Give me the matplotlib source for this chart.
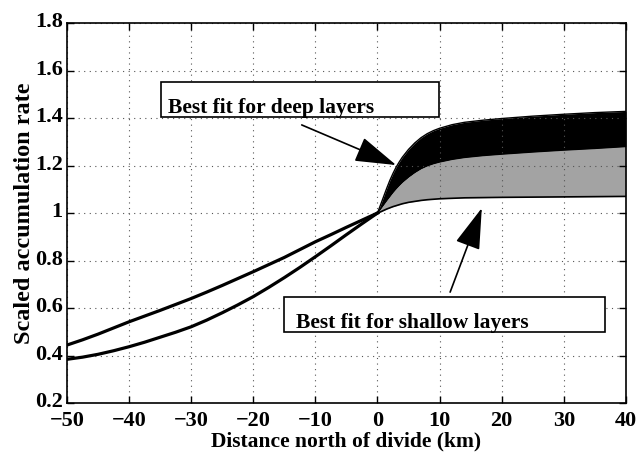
import matplotlib
matplotlib.use("Agg")
from matplotlib import pyplot as plt
from matplotlib.patches import Rectangle
from matplotlib.transforms import ScaledTranslation

# south of divide (two fits, meeting at the divide)
x_south = [-50, -47.5, -45, -42.5, -40, -37.5, -35, -32.5, -30, -27.5, -25,
           -22.5, -20, -17.5, -15, -12.5, -10, -7.5, -5, -2.5, 0]
deep_south = [0.444, 0.466, 0.49, 0.516, 0.542, 0.566, 0.59, 0.615, 0.64, 0.667, 0.695,
              0.724, 0.753, 0.783, 0.813, 0.846, 0.879, 0.909, 0.94, 0.97, 1.0]
shallow_south = [0.384, 0.393, 0.405, 0.42, 0.437, 0.456, 0.477, 0.498, 0.521, 0.549, 0.58,
                 0.613, 0.648, 0.687, 0.728, 0.771, 0.816, 0.862, 0.909, 0.955, 1.0]

# north of divide (three curves bounding the shaded bands)
x_north = [0, 0.5, 1, 1.5, 2, 2.5, 3, 3.5, 4, 5, 6, 7, 8, 9, 10, 12, 14, 17, 20, 25, 30, 35, 40]
top_north = [1.0, 1.035, 1.07, 1.105, 1.138, 1.167, 1.193, 1.215, 1.235, 1.268, 1.295, 1.317,
             1.334, 1.347, 1.357, 1.372, 1.382, 1.391, 1.398, 1.408, 1.416, 1.423, 1.428]
mid_north = [1.0, 1.018, 1.036, 1.054, 1.071, 1.088, 1.103, 1.117, 1.13, 1.152, 1.171, 1.187,
             1.199, 1.208, 1.215, 1.226, 1.234, 1.242, 1.248, 1.257, 1.265, 1.272, 1.28]
low_north = [1.0, 1.005, 1.011, 1.017, 1.022, 1.027, 1.031, 1.035, 1.039, 1.045, 1.049, 1.053,
             1.056, 1.058, 1.06, 1.062, 1.064, 1.065, 1.066, 1.067, 1.068, 1.069, 1.07]

xticks = [-50, -40, -30, -20, -10, 0, 10, 20, 30, 40]
yticks = [0.2, 0.4, 0.6, 0.8, 1.0, 1.2, 1.4, 1.6, 1.8]

plt.rcParams['font.family'] = ['Liberation Serif', 'DejaVu Serif']
plt.rcParams['font.weight'] = 'bold'

fig = plt.figure(figsize=(6.38, 4.55), dpi=100)
ax = fig.add_axes([0.105, 0.1143, 0.876, 0.835])

ax.fill_between(x_north, mid_north, top_north, color='black', lw=0)
ax.fill_between(x_north, low_north, mid_north, color='#a3a3a3', lw=0)
ax.plot(x_north, top_north, 'k', lw=1.0)
ax.plot(x_north, mid_north, 'k', lw=1.0)
ax.plot(x_north, low_north, 'k', lw=1.2)

ax.plot(x_south, deep_south, 'k', lw=2.3)
ax.plot(x_south, shallow_south, 'k', lw=2.3)

ax.set_xlim(-50, 40)
ax.set_ylim(0.2, 1.8)
ax.set_xticks(xticks)
ax.set_yticks(yticks)
ax.set_yticklabels(['%g' % v for v in yticks])
ax.tick_params(direction='in', top=True, right=True, labelsize=16, length=5, width=1)
ax.tick_params(axis='x', pad=6)
ax.tick_params(axis='y', pad=3)
lift = ScaledTranslation(0, 2.5 / 72, fig.dpi_scale_trans)
for lab in ax.get_yticklabels():
    lab.set_transform(lab.get_transform() + lift)
for lab in ax.get_xticklabels() + ax.get_yticklabels():
    lab.set_fontweight('bold')
ax.grid(True, color='#555555', linestyle=(0, (1, 4)), lw=0.8)
for s in ax.spines.values():
    s.set_linewidth(1.2)

ax.set_xlabel('Distance north of divide (km)', fontsize=15.5, fontweight='bold', labelpad=0)
ax.set_ylabel('Scaled accumulation rate', fontsize=17.5, fontweight='bold', labelpad=0)

# annotation boxes
ax.add_patch(Rectangle((-34.9, 1.404), 44.8, 0.148, fill=True, facecolor='white',
                       edgecolor='black', lw=1.2, zorder=5))
ax.text(-33.8, 1.423, 'Best fit for deep layers', fontsize=15.5, fontweight='bold', zorder=6)
ax.add_patch(Rectangle((-15.1, 0.499), 51.7, 0.147, fill=True, facecolor='white',
                       edgecolor='black', lw=1.2, zorder=5))
ax.text(-13.2, 0.516, 'Best fit for shallow layers', fontsize=15.5, fontweight='bold', zorder=6)

arrow = dict(arrowstyle='-|>,head_length=1.3,head_width=0.4', mutation_scale=20,
             color='black', lw=1.2, shrinkA=0, shrinkB=0)
ax.annotate('', xy=(3.0, 1.202), xytext=(-12.2, 1.371), arrowprops=arrow, zorder=7)
ax.annotate('', xy=(16.8, 1.021), xytext=(11.7, 0.667), arrowprops=arrow, zorder=7)

fig.savefig('out.png', dpi=100)
